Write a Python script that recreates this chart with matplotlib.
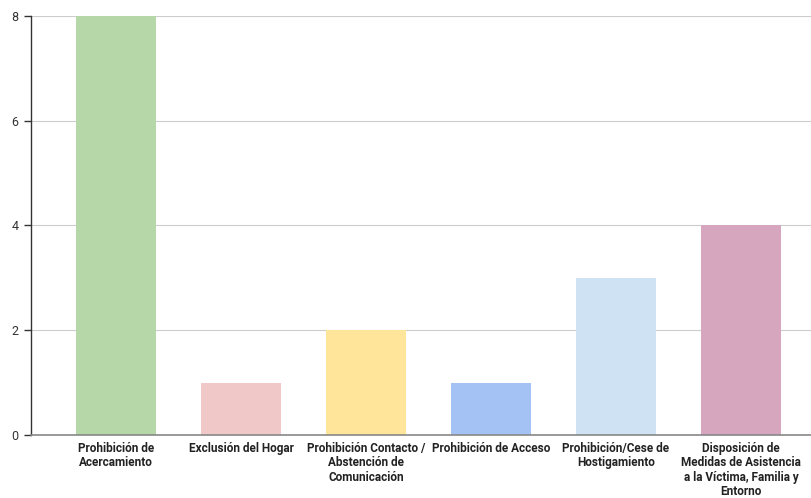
import matplotlib.pyplot as plt
import numpy as np

plt.rcParams['font.family'] = ['Roboto', 'DejaVu Sans']

categories = ['Prohibición de\nAcercamiento', 'Exclusión del Hogar',
              'Prohibición Contacto /\nAbstención de\nComunicación',
              'Prohibición de Acceso', 'Prohibición/Cese de\nHostigamiento',
              'Disposición de\nMedidas de Asistencia\na la Víctima, Familia y\nEntorno']
values = [8, 1, 2, 1, 3, 4]
colors = ['#b6d7a8', '#f0c8c8', '#ffe599', '#a4c2f4', '#cfe2f3', '#d5a6bd']

fig = plt.figure(figsize=(8.12, 4.98), dpi=100)
ax = fig.add_axes([31/812, 1-435/498, 1-31/812, (435-16)/498])

x = np.arange(len(values))
ax.bar(x, values, width=0.64, color=colors, zorder=3)

ax.set_xlim(-0.68, 5.568)
ax.set_ylim(0, 8)
ax.set_yticks([0, 2, 4, 6, 8])
ax.set_yticklabels(['0', '2', '4', '6', '8'], fontsize=9, color='#333333')
ax.set_xticks(x)
ax.set_xticklabels(categories, fontsize=8.5, fontweight='bold', color='#222222',
                   linespacing=1.15, va='top')
ax.tick_params(axis='x', length=0, pad=5)
ax.tick_params(axis='y', length=5, width=1, color='#333333', pad=4)

ax.grid(axis='y', color='#cccccc', linewidth=0.8, zorder=0)
for s in ['top', 'right']:
    ax.spines[s].set_visible(False)
ax.spines['left'].set_color('#333333')
ax.spines['left'].set_linewidth(1)
ax.spines['bottom'].set_color('#888888')
ax.spines['bottom'].set_linewidth(1.2)
ax.spines['bottom'].set_zorder(4)

plt.savefig('out.png', dpi=100)
